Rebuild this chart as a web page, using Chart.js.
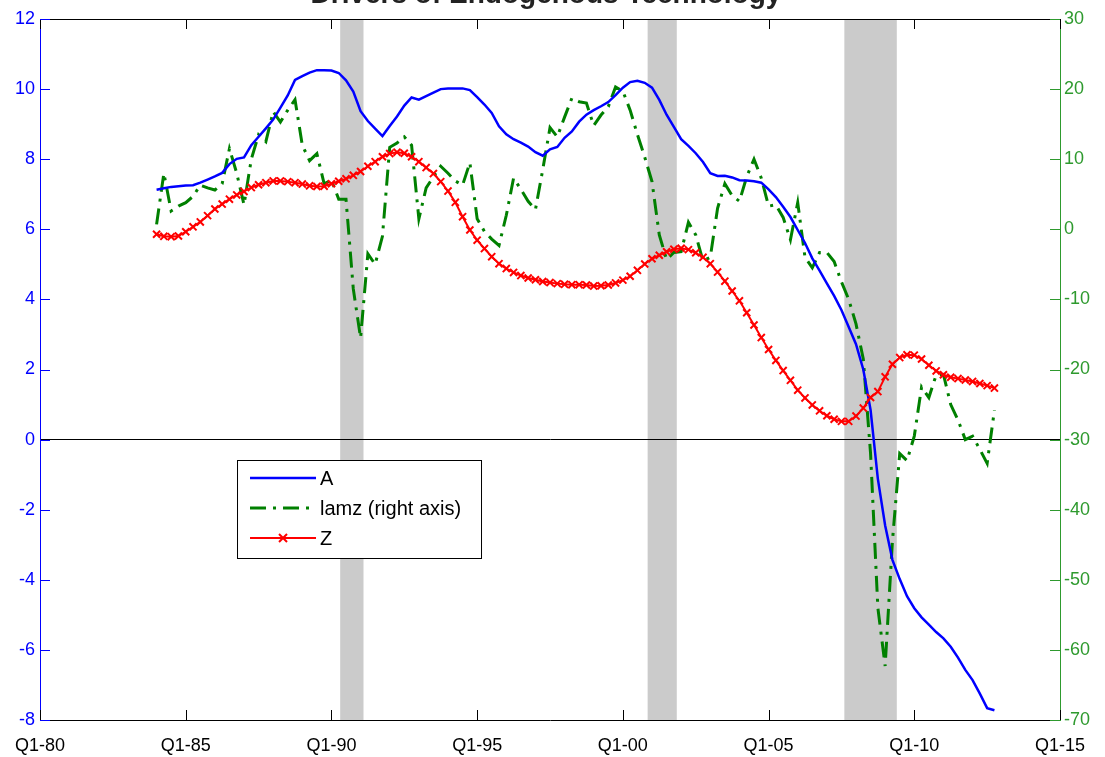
<!DOCTYPE html>
<html>
<head>
<meta charset="utf-8">
<script src="https://cdn.jsdelivr.net/npm/chart.js@4.4.1/dist/chart.umd.min.js"></script>
<style>
  html, body { margin: 0; padding: 0; background: #fff; }
  #wrap { width: 1105px; height: 757px; position: relative; }
</style>
</head>
<body>
<div id="wrap"><canvas id="chart"></canvas></div>
<script>
// quarterly data, Q1-84 to Q4-12
const firstYear = 1984;

const aValues = [
  7.13, 7.17, 7.21, 7.23, 7.25, 7.26, 7.33, 7.42, 7.51, 7.61,
  7.86, 8.01, 8.05, 8.40, 8.64, 8.88, 9.13, 9.47, 9.82, 10.26,
  10.37, 10.47, 10.54, 10.54, 10.53, 10.46, 10.25, 9.93, 9.37, 9.09,
  8.87, 8.66, 8.95, 9.22, 9.53, 9.76, 9.70, 9.80, 9.90, 10.00,
  10.02, 10.02, 10.02, 9.97, 9.77, 9.56, 9.32, 8.94, 8.71, 8.57,
  8.47, 8.36, 8.20, 8.10, 8.28, 8.35, 8.61, 8.79, 9.07, 9.27,
  9.40, 9.51, 9.63, 9.83, 10.04, 10.20, 10.24, 10.18, 10.04, 9.69,
  9.27, 8.92, 8.57, 8.38, 8.17, 7.92, 7.60, 7.52, 7.53, 7.48,
  7.40, 7.39, 7.37, 7.33, 7.14, 6.92, 6.64, 6.35, 5.98, 5.61,
  5.17, 4.82, 4.46, 4.10, 3.70, 3.21, 2.72, 2.00, 0.85, -1.12,
  -2.45, -3.43, -3.98, -4.47, -4.81, -5.07, -5.28, -5.49, -5.67, -5.91,
  -6.22, -6.57, -6.86, -7.25, -7.66, -7.72
];

const lamzValues = [
  0.7, 8.0, 2.6, 3.3, 3.8, 4.7, 6.3, 5.9, 5.6, 6.5,
  11.5, 8.0, 3.5, 10.0, 13.5, 12.5, 16.8, 15.3, 17.0, 18.5,
  12.0, 9.8, 10.8, 6.5, 7.0, 4.3, 4.3, -8.5, -15.5, -3.5,
  -5.0, -1.0, 11.7, 12.3, 13.2, 12.0, 1.5, 5.9, 7.5, 9.0,
  8.0, 6.9, 6.3, 9.5, 1.5, -0.3, -1.4, -2.3, 2.0, 7.3,
  5.7, 4.0, 2.8, 8.5, 14.5, 13.2, 16.0, 18.7, 18.2, 18.0,
  14.8, 16.3, 17.5, 20.3, 19.7, 17.0, 13.5, 10.3, 6.8, -0.8,
  -4.3, -3.3, -3.2, 1.0, -0.8, -4.5, -4.0, 3.0, 6.5, 4.8,
  4.0, 7.5, 10.0, 7.3, 3.3, 3.5, 1.7, -1.5, 3.8, -4.0,
  -5.5, -3.3, -3.3, -4.6, -7.5, -10.0, -13.5, -18.5, -32.0, -54.0,
  -62.3, -44.5, -32.0, -33.0, -29.5, -22.5, -24.0, -20.8, -20.7, -25.0,
  -27.2, -30.0, -29.5, -31.4, -33.4, -25.8
];

const zValues = [
  5.86, 5.80, 5.79, 5.81, 5.93, 6.07, 6.21, 6.39, 6.58, 6.72,
  6.86, 6.98, 7.08, 7.19, 7.27, 7.33, 7.38, 7.38, 7.36, 7.33,
  7.29, 7.24, 7.22, 7.23, 7.30, 7.37, 7.44, 7.54, 7.65, 7.80,
  7.93, 8.07, 8.16, 8.20, 8.17, 8.07, 7.93, 7.76, 7.59, 7.36,
  7.09, 6.77, 6.36, 5.98, 5.69, 5.45, 5.22, 5.02, 4.88, 4.77,
  4.68, 4.61, 4.56, 4.51, 4.48, 4.45, 4.43, 4.42, 4.42, 4.41,
  4.38, 4.39, 4.41, 4.47, 4.55, 4.66, 4.83, 5.01, 5.16, 5.26,
  5.36, 5.43, 5.46, 5.42, 5.33, 5.20, 5.02, 4.78, 4.52, 4.24,
  3.96, 3.62, 3.27, 2.91, 2.57, 2.26, 1.97, 1.69, 1.41, 1.19,
  0.99, 0.82, 0.68, 0.58, 0.52, 0.52, 0.67, 0.90, 1.20, 1.37,
  1.79, 2.15, 2.34, 2.42, 2.41, 2.30, 2.12, 1.96, 1.85, 1.78,
  1.74, 1.70, 1.66, 1.60, 1.54, 1.47
];

// shaded recessions (start, end) in years
const recessions = [[1990.3, 1991.1], [2000.85, 2001.85], [2007.6, 2009.4]];

const xTickLabels = ['Q1-80', 'Q1-85', 'Q1-90', 'Q1-95', 'Q1-00', 'Q1-05', 'Q1-10', 'Q1-15'];

const BLUE = '#0000ff';
const GREEN = '#008000';
const RED = '#ff0000';
const AXIS_GREEN = '#2e9a2e';
const FONT = '"Liberation Sans", Arial, sans-serif';

function toPoints(values) {
  return values.map((v, i) => ({ x: firstYear + i * 0.25, y: v }));
}

const framePlugin = {
  id: 'frame',
  beforeDraw(chart) {
    const { ctx, chartArea, scales } = chart;
    ctx.save();
    ctx.fillStyle = '#cbcbcb';
    recessions.forEach(r => {
      const x0 = scales.x.getPixelForValue(r[0]);
      const x1 = scales.x.getPixelForValue(r[1]);
      ctx.fillRect(x0, chartArea.top, x1 - x0, chartArea.bottom - chartArea.top);
    });
    ctx.restore();
  },
  afterDatasetsDraw(chart) {
    const { ctx, chartArea, scales } = chart;
    const tl = 10;
    ctx.save();
    ctx.lineWidth = 1;

    // top border
    ctx.strokeStyle = '#000';
    ctx.beginPath();
    ctx.moveTo(chartArea.left, chartArea.top + 0.5);
    ctx.lineTo(chartArea.right, chartArea.top + 0.5);
    ctx.stroke();

    // inward ticks, x on top and bottom
    scales.x.ticks.forEach(t => {
      const px = Math.round(scales.x.getPixelForValue(t.value)) + 0.5;
      ctx.beginPath();
      ctx.moveTo(px, chartArea.bottom);
      ctx.lineTo(px, chartArea.bottom - tl);
      ctx.moveTo(px, chartArea.top);
      ctx.lineTo(px, chartArea.top + tl);
      ctx.stroke();
    });

    ctx.strokeStyle = BLUE;
    scales.y.ticks.forEach(t => {
      const py = Math.round(scales.y.getPixelForValue(t.value)) + 0.5;
      ctx.beginPath();
      ctx.moveTo(chartArea.left, py);
      ctx.lineTo(chartArea.left + tl, py);
      ctx.stroke();
    });

    ctx.strokeStyle = AXIS_GREEN;
    scales.y1.ticks.forEach(t => {
      const py = Math.round(scales.y1.getPixelForValue(t.value)) + 0.5;
      ctx.beginPath();
      ctx.moveTo(chartArea.right, py);
      ctx.lineTo(chartArea.right - tl, py);
      ctx.stroke();
    });

    // legend box
    const lx = chartArea.left + 197, ly = chartArea.top + 441, lw = 244, lh = 98;
    ctx.fillStyle = '#fff';
    ctx.fillRect(lx, ly, lw, lh);
    ctx.strokeStyle = '#000';
    ctx.strokeRect(lx + 0.5, ly + 0.5, lw, lh);

    const items = [
      { label: 'A', ds: chart.data.datasets[0] },
      { label: 'lamz (right axis)', ds: chart.data.datasets[1] },
      { label: 'Z', ds: chart.data.datasets[2] }
    ];
    ctx.font = '20px ' + FONT;
    ctx.textBaseline = 'middle';
    items.forEach((it, k) => {
      const yy = ly + 18 + k * 30;
      ctx.save();
      ctx.strokeStyle = it.ds.borderColor;
      ctx.lineWidth = it.ds.borderWidth;
      ctx.setLineDash(it.ds.borderDash || []);
      ctx.beginPath();
      ctx.moveTo(lx + 13, yy);
      ctx.lineTo(lx + 79, yy);
      ctx.stroke();
      ctx.restore();
      if (it.ds.pointRadius > 0) {
        const cx = lx + 46, r = 4;
        ctx.save();
        ctx.strokeStyle = it.ds.borderColor;
        ctx.lineWidth = 2;
        ctx.beginPath();
        ctx.moveTo(cx - r, yy - r); ctx.lineTo(cx + r, yy + r);
        ctx.moveTo(cx - r, yy + r); ctx.lineTo(cx + r, yy - r);
        ctx.stroke();
        ctx.restore();
      }
      ctx.fillStyle = '#000';
      ctx.fillText(it.label, lx + 83, yy + 1);
    });

    ctx.restore();
  },
  afterDraw(chart) {
    const { ctx } = chart;
    ctx.save();
    ctx.font = 'bold 28px ' + FONT;
    ctx.fillStyle = '#222';
    ctx.textAlign = 'center';
    ctx.textBaseline = 'alphabetic';
    ctx.fillText('Drivers of Endogenous Technology', 546, 3);
    ctx.restore();
  }
};

new Chart(document.getElementById('chart').getContext('2d'), {
  type: 'line',
  data: {
    datasets: [
      {
        label: 'A',
        data: toPoints(aValues),
        yAxisID: 'y',
        borderColor: BLUE,
        backgroundColor: BLUE,
        borderWidth: 2.5,
        pointRadius: 0,
        order: 1
      },
      {
        label: 'lamz (right axis)',
        data: toPoints(lamzValues),
        yAxisID: 'y1',
        borderColor: GREEN,
        backgroundColor: GREEN,
        borderWidth: 3,
        borderDash: [16, 7, 3, 7],
        pointRadius: 0,
        order: 2
      },
      {
        label: 'Z',
        data: toPoints(zValues),
        yAxisID: 'y',
        borderColor: RED,
        backgroundColor: RED,
        borderWidth: 2,
        pointStyle: 'crossRot',
        pointRadius: 5,
        pointBorderWidth: 2,
        pointBorderColor: RED,
        order: 0
      }
    ]
  },
  options: {
    responsive: true,
    maintainAspectRatio: false,
    animation: false,
    layout: { padding: { top: 19, left: 0, right: 0, bottom: 0 } },
    plugins: {
      legend: { display: false },
      title: { display: false },
      tooltip: { enabled: false }
    },
    elements: { line: { tension: 0 } },
    scales: {
      x: {
        type: 'linear',
        min: 1980,
        max: 2015,
        afterBuildTicks: scale => {
          scale.ticks = xTickLabels.map((l, i) => ({ value: 1980 + i * 5 }));
        },
        afterFit: scale => { scale.height = 37; },
        grid: { display: false, drawTicks: false },
        border: { display: true, color: '#000', width: 1 },
        ticks: {
          color: '#000',
          padding: 15,
          maxRotation: 0,
          font: { family: FONT, size: 18 },
          callback: (v, i) => xTickLabels[i]
        }
      },
      y: {
        position: 'left',
        min: -8,
        max: 12,
        afterFit: scale => { scale.width = 40; },
        grid: {
          drawTicks: false,
          color: c => (c.tick && c.tick.value === 0 ? '#000' : 'rgba(0,0,0,0)'),
          lineWidth: 1
        },
        border: { display: true, color: BLUE, width: 1 },
        ticks: {
          stepSize: 2,
          color: BLUE,
          padding: 5,
          font: { family: FONT, size: 18 }
        }
      },
      y1: {
        position: 'right',
        min: -70,
        max: 30,
        afterFit: scale => { scale.width = 45; },
        grid: { display: false, drawTicks: false },
        border: { display: true, color: AXIS_GREEN, width: 1 },
        ticks: {
          stepSize: 10,
          color: AXIS_GREEN,
          padding: 4,
          font: { family: FONT, size: 18 }
        }
      }
    }
  },
  plugins: [framePlugin]
});
</script>
</body>
</html>
